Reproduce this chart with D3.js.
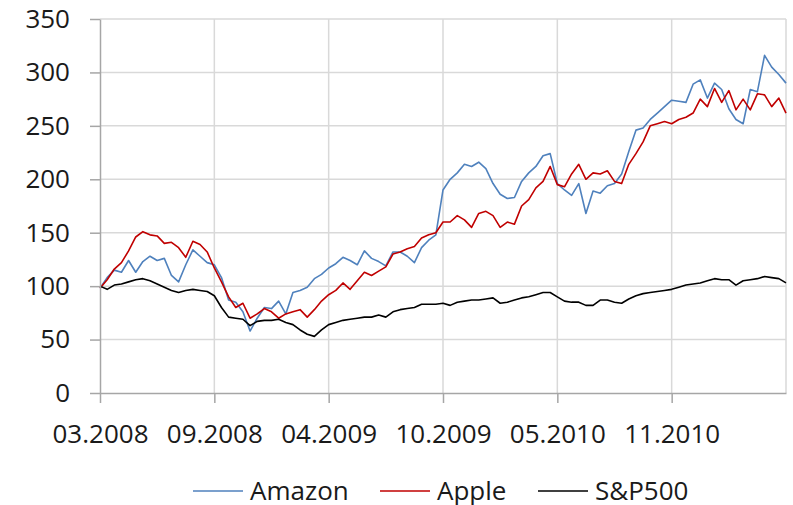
<!DOCTYPE html>
<html>
<head>
<meta charset="utf-8">
<script src="https://cdn.jsdelivr.net/npm/d3@7"></script>
<style>
  body { margin:0; background:#fff; }
  text { font-family:"Open Sans", sans-serif; fill:#1a1a1a; }
</style>
</head>
<body>
<div id="chart"></div>
<script>
//DATA - sampled evenly across the trading days, one value every ~8 days
var amazon = [
  98,108,115,113,124,113,123,128,124,126,110,104,120,134,128,122,120,
  108,87,85,76,58,70,80,79,86,74,94,96,99,107,111,117,
  121,127,124,120,133,126,123,119,132,132,128,122,136,143,148,190,
  200,206,214,212,216,210,196,186,182,183,198,206,212,222,224,196,
  190,185,196,168,189,187,194,196,205,226,246,248,256,262,268,274,
  273,272,289,293,276,290,284,266,256,252,284,282,316,305,298,290
];
var apple = [
  98,106,116,122,133,146,151,148,147,140,141,136,127,142,139,132,117,
  104,90,80,84,70,74,79,76,70,74,76,78,71,78,86,92,
  96,103,97,105,113,110,114,118,130,132,135,137,145,148,150,160,
  160,166,162,155,168,170,166,155,160,158,175,181,192,198,212,195,
  193,205,214,200,206,205,208,198,196,214,224,235,250,252,254,252,
  256,258,262,275,268,285,272,283,265,275,265,280,279,268,276,262
];
var sp500 = [
  100,97,101,102,104,106,107,105,102,99,96,94,96,97,96,95,91,
  80,71,70,69,63,67,68,68,69,66,64,59,55,53,59,64,
  66,68,69,70,71,71,73,71,76,78,79,80,83,83,83,84,
  82,85,86,87,87,88,89,84,85,87,89,90,92,94,94,90,
  86,85,85,82,82,87,87,85,84,88,91,93,94,95,96,97,
  99,101,102,103,105,107,106,106,101,105,106,107,109,108,107,103
];
var tickIdx = [0,16,32,48,64,80];
var tickLabels = ["03.2008","09.2008","04.2009","10.2009","05.2010","11.2010"];
var yTicks = [0,50,100,150,200,250,300,350];

var series = [
  {name:"Amazon", values:amazon, color:"#4f81bd"},
  {name:"Apple",  values:apple,  color:"#c00000"},
  {name:"S&P500", values:sp500,  color:"#000000"}
];

var width = 793, height = 505;
var m = {left:100, right:7, top:19, bottom:112};

var svg = d3.select("#chart").append("svg")
  .attr("width", width)
  .attr("height", height);

var x = d3.scaleLinear().domain([0, amazon.length-1]).range([m.left, width-m.right]);
var y = d3.scaleLinear().domain([0, 350]).range([height-m.bottom, m.top]);

//GRID
var grid = svg.append("g").attr("stroke","#d9d9d9").attr("stroke-width",1.5);
grid.selectAll(".hg").data(yTicks.slice(1)).enter().append("line")
  .attr("x1", x(0)).attr("x2", x(amazon.length-1))
  .attr("y1", function(d){return y(d);}).attr("y2", function(d){return y(d);});
grid.selectAll(".vg").data(tickIdx.slice(1).concat([amazon.length-1])).enter().append("line")
  .attr("x1", function(d){return x(d);}).attr("x2", function(d){return x(d);})
  .attr("y1", y(0)).attr("y2", y(350));

//LINES
var line = d3.line()
  .x(function(d,i){return x(i);})
  .y(function(d){return y(d);});

svg.append("g").selectAll("path").data(series).enter().append("path")
  .attr("fill","none")
  .attr("stroke", function(d){return d.color;})
  .attr("stroke-width",1.6)
  .attr("stroke-linejoin","round")
  .attr("d", function(d){return line(d.values);});

//AXES
var yAxis = svg.append("g")
  .attr("transform","translate("+m.left+",0)")
  .call(d3.axisLeft(y).tickValues(yTicks).tickSize(10).tickSizeOuter(0).tickPadding(20));
var xAxis = svg.append("g")
  .attr("transform","translate(0,"+y(0)+")")
  .call(d3.axisBottom(x).tickValues(tickIdx).tickSize(10).tickSizeOuter(0).tickPadding(22)
    .tickFormat(function(d,i){return tickLabels[i];}));

[yAxis, xAxis].forEach(function(a){
  a.select(".domain").attr("stroke","#a6a6a6").attr("stroke-width",1.5);
  a.selectAll(".tick line").attr("stroke","#a6a6a6").attr("stroke-width",1.5);
  a.selectAll(".tick text").style("font-size","26px").attr("fill","#1a1a1a");
});

//LEGEND
var legX = [193, 380, 538];
var leg = svg.append("g").selectAll("g").data(series).enter().append("g")
  .attr("transform", function(d,i){return "translate("+legX[i]+",491)";});
leg.append("line").attr("x1",0).attr("x2",50)
  .attr("stroke", function(d){return d.color;}).attr("stroke-width",1.6);
leg.append("text").attr("x",57).attr("dy","0.35em")
  .style("font-size","26px")
  .text(function(d){return d.name;});
</script>
</body>
</html>
